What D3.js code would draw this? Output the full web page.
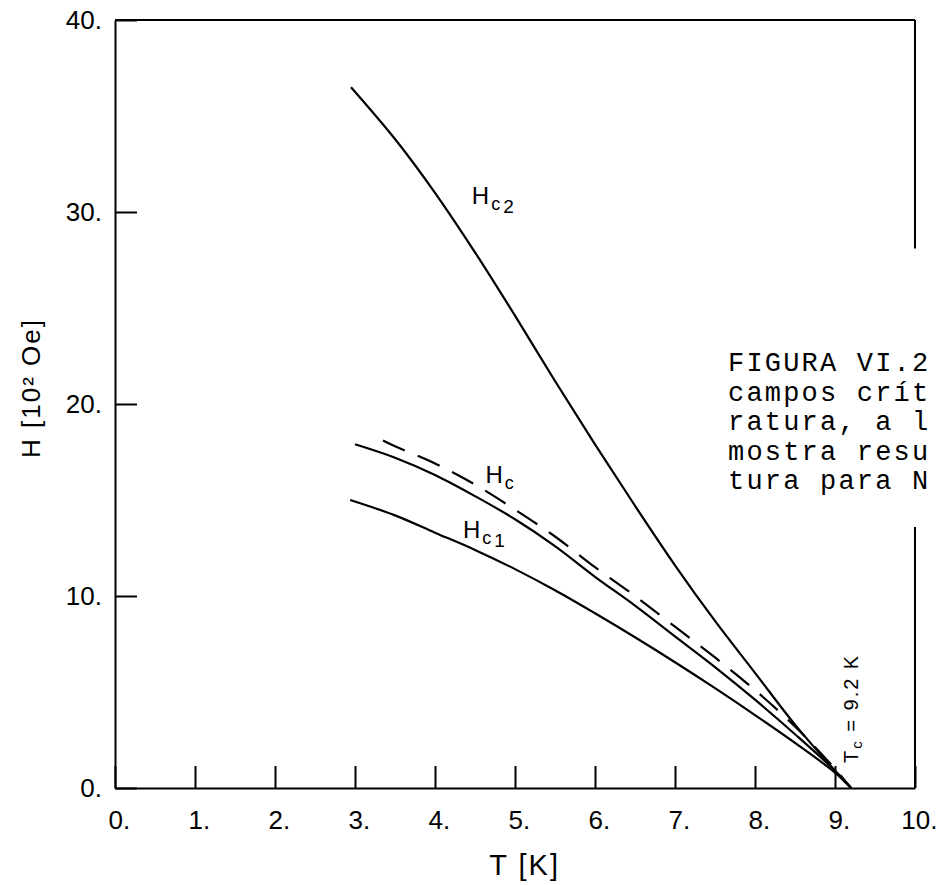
<!DOCTYPE html>
<html>
<head>
<meta charset="utf-8">
<script src="https://cdn.jsdelivr.net/npm/d3@7"></script>
<style>
  body { margin: 0; background: #fff; }
  svg { display: block; }
  .tick text { font-family: 'Liberation Sans', Arial, sans-serif; font-size: 26px; fill: #000; }
</style>
</head>
<body>
<div id="chart"></div>
<script>
// Data

let xTicks = [0, 1, 2, 3, 4, 5, 6, 7, 8, 9, 10];
let yTicks = [0, 10, 20, 30, 40];

// T [K] for each curve
let tHc2 = [2.95, 3.5, 4.0, 4.5, 5.0, 5.5, 6.0, 6.5, 7.0, 7.5, 8.0, 8.5, 9.0, 9.2];
let tHc = [3.0, 3.5, 4.0, 4.5, 5.0, 5.5, 6.0, 6.5, 7.0, 7.5, 8.0, 8.5, 9.0, 9.2];
let tHcDash = [3.35, 3.5, 4.0, 4.5, 5.0, 5.5, 6.0, 6.5, 7.0, 7.5, 8.0, 8.5, 9.0, 9.2];
let tHc1 = [2.94, 3.5, 4.0, 4.5, 5.0, 5.5, 6.0, 6.5, 7.0, 7.5, 8.0, 8.5, 9.0, 9.2];

// H [10^2 Oe]
let hc2 = [36.5, 33.8, 31.0, 27.9, 24.6, 21.2, 17.9, 14.7, 11.6, 8.7, 6.0, 3.3, 0.9, 0];
let hc = [17.9, 17.2, 16.3, 15.2, 14.0, 12.6, 11.0, 9.5, 7.9, 6.3, 4.6, 2.8, 0.9, 0];
let hcDash = [18.1, 17.8, 16.9, 15.8, 14.5, 13.1, 11.5, 10.0, 8.4, 6.8, 5.1, 3.2, 1.0, 0];
let hc1 = [15.0, 14.2, 13.3, 12.4, 11.4, 10.3, 9.1, 7.85, 6.55, 5.2, 3.8, 2.35, 0.8, 0];

let tc = 9.2;

// the right frame line is broken between these H values
let frameGap = [13.6, 28.1];

let caption = ['FIGURA VI.2', 'campos crít', 'ratura, a l', 'mostra resu', 'tura para N'];

// D3 Code
let width = 936;
let height = 885;

let x = d3.scaleLinear().domain([0, 10]).range([115, 915]);
let y = d3.scaleLinear().domain([0, 40]).range([788, 20]);

let svg = d3.select('#chart').append('svg').attr('width', width).attr('height', height);

// frame: top and broken right side
function frameLine(x1, y1, x2, y2) {
  svg
    .append('line')
    .attr('x1', x1)
    .attr('y1', y1)
    .attr('x2', x2)
    .attr('y2', y2)
    .style('stroke', '#000')
    .style('stroke-width', 2);
}

frameLine(x(0), y(40), x(10), y(40));
frameLine(x(10), y(40), x(10), y(frameGap[1]));
frameLine(x(10), y(frameGap[0]), x(10), y(0));

// axes, ticks pointing inward
let xAxis = svg
  .append('g')
  .attr('transform', 'translate(0,' + y(0) + ')')
  .call(
    d3
      .axisBottom(x)
      .tickValues(xTicks)
      .tickSizeInner(-22)
      .tickSizeOuter(0)
      .tickPadding(23)
      .tickFormat((d) => d + '.')
  );

xAxis.selectAll('text').attr('dx', '0.15em');

svg
  .append('g')
  .attr('transform', 'translate(' + x(0) + ',0)')
  .call(
    d3
      .axisLeft(y)
      .tickValues(yTicks)
      .tickSizeInner(-22)
      .tickSizeOuter(0)
      .tickPadding(13)
      .tickFormat((d) => d + '.')
  );

svg.selectAll('.domain').style('stroke', '#000').style('stroke-width', 2);
svg.selectAll('.tick line').style('stroke', '#000').style('stroke-width', 2);

// curves
let line = d3
  .line()
  .x((d) => x(d[0]))
  .y((d) => y(d[1]))
  .curve(d3.curveCatmullRom.alpha(0.5));

function drawCurve(ts, hs, dash) {
  let pts = ts.map((t, i) => [t, hs[i]]);

  svg
    .append('path')
    .datum(pts)
    .attr('d', line)
    .style('fill', 'none')
    .style('stroke', '#000')
    .style('stroke-width', 2.2)
    .style('stroke-dasharray', dash);
}

drawCurve(tHc2, hc2, null);
drawCurve(tHc, hc, null);
drawCurve(tHcDash, hcDash, '24,14');
drawCurve(tHc1, hc1, null);

// curve labels
function curveLabel(t, h, sub1, sub2) {
  let lab = svg
    .append('text')
    .attr('x', x(t))
    .attr('y', y(h))
    .style('font-family', "'Liberation Sans', Arial, sans-serif")
    .style('fill', '#000');
  lab.append('tspan').style('font-size', '24px').text('H');
  lab.append('tspan').style('font-size', '18px').attr('dx', 2).attr('dy', 6).text(sub1);
  if (sub2) {
    lab.append('tspan').style('font-size', '19px').attr('dx', 3).attr('dy', 3).text(sub2);
  }
}

curveLabel(4.46, 30.4, 'c', '2');
curveLabel(4.63, 15.9, 'c');
curveLabel(4.35, 13.0, 'c', '1');

// Tc marker text, vertical
let tcLabel = svg
  .append('text')
  .attr('transform', 'translate(' + (x(tc) + 7) + ',' + (y(0) - 25) + ') rotate(-90)')
  .style('font-family', "'Liberation Sans', Arial, sans-serif")
  .style('font-size', '20px')
  .style('letter-spacing', '2px')
  .style('fill', '#000');
tcLabel.append('tspan').text('T');
tcLabel.append('tspan').style('font-size', '15px').attr('dy', 4).text('c');
tcLabel.append('tspan').attr('dy', -4).text(' = ' + tc + ' K');

// axis titles
svg
  .append('text')
  .attr('transform', 'translate(40,388) rotate(-90)')
  .attr('text-anchor', 'middle')
  .style('font-family', "'Liberation Sans', Arial, sans-serif")
  .style('font-size', '26px')
  .style('letter-spacing', '2px')
  .style('fill', '#000')
  .text('H [10² Oe]');

svg
  .append('text')
  .attr('x', x(5.12))
  .attr('y', 875)
  .attr('text-anchor', 'middle')
  .style('font-family', "'Liberation Sans', Arial, sans-serif")
  .style('font-size', '29px')
  .style('letter-spacing', '2px')
  .style('fill', '#000')
  .text('T [K]');

// caption block (typewritten, reaches the right edge)
svg
  .append('g')
  .selectAll('text')
  .data(caption)
  .enter()
  .append('text')
  .attr('x', 728)
  .attr('y', (d, i) => 371 + i * 29.5)
  .style('font-family', "'Liberation Mono', 'Courier New', monospace")
  .style('font-size', '27px')
  .style('letter-spacing', '2.2px')
  .style('fill', '#000')
  .text((d) => d);
</script>
</body>
</html>
